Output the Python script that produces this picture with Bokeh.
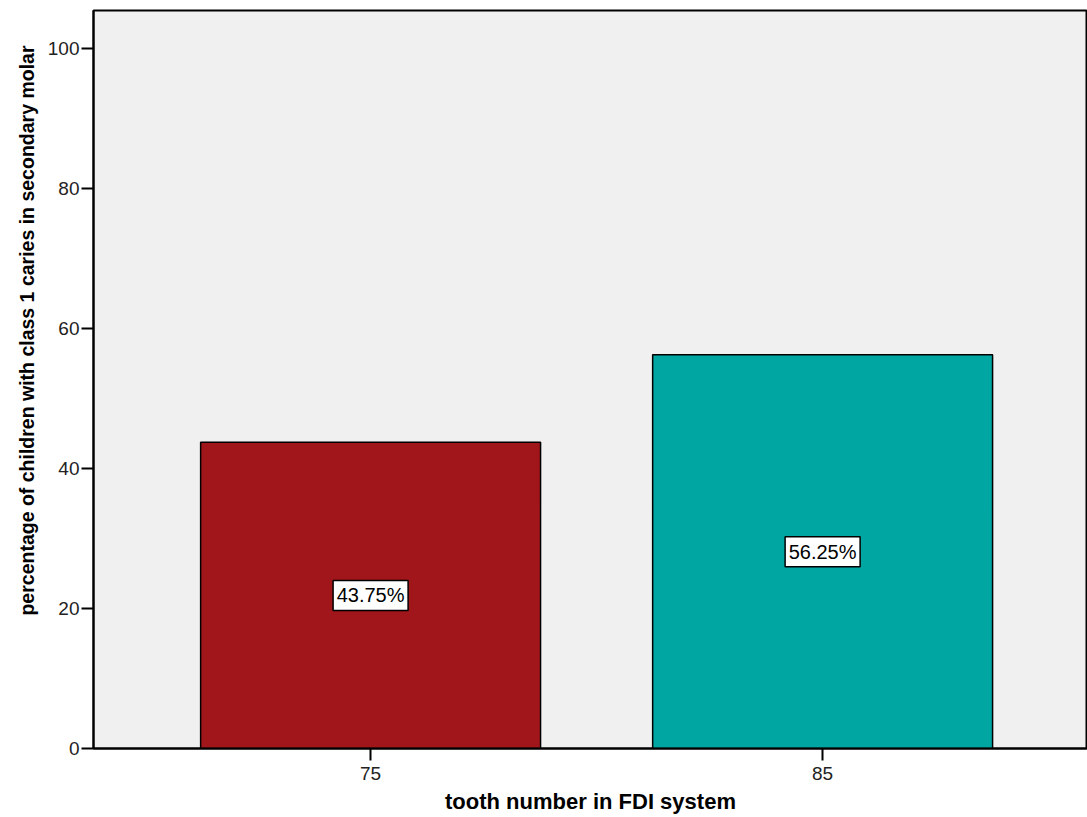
from bokeh.plotting import figure
from bokeh.models import ColumnDataSource, Title, FixedTicker, Range1d
from bokeh.core.properties import value
from bokeh.embed import file_html
from bokeh.resources import INLINE

categories = ["75", "85"]
values = [43.75, 56.25]
labels = ["43.75%", "56.25%"]
colors = ["#A0161A", "#00A6A2"]
y_ticks = [0, 20, 40, 60, 80, 100]
x_title = "tooth number in FDI system"
y_title = "percentage of children with class 1 caries in secondary molar"

xs = list(range(len(categories)))
src = ColumnDataSource(dict(
    x=xs, top=values, mid=[v / 2 for v in values], lab=labels, color=colors))

p = figure(width=1087, height=817, output_backend="svg", toolbar_location=None,
           x_range=Range1d(-0.613, 1.586), y_range=Range1d(0, 105.43),
           min_border_left=93, min_border_top=10, min_border_right=0, min_border_bottom=69)

p.background_fill_color = "#F0F0F0"
p.border_fill_color = "white"
p.outline_line_color = "black"
p.outline_line_width = 2
p.grid.visible = False

p.vbar(x="x", top="top", width=0.752, bottom=0, fill_color="color",
       line_color="black", line_width=1.5, source=src)

p.rect(x="x", y="mid", width=75, height=30, width_units="screen", height_units="screen",
       fill_color="white", line_color="black", line_width=1.5, source=src)
p.text(x="x", y="mid", text="lab", source=src, text_align="center",
       text_baseline="middle", text_font=value("Liberation Sans"), text_font_size="20px",
       text_color="black")

p.xaxis.ticker = FixedTicker(ticks=xs)
p.xaxis.major_label_overrides = {i: c for i, c in enumerate(categories)}
p.yaxis.ticker = FixedTicker(ticks=y_ticks)

for ax in (p.xaxis, p.yaxis):
    ax.axis_line_color = "black"
    ax.axis_line_width = 2
    ax.major_tick_line_color = "black"
    ax.major_tick_line_width = 2
    ax.major_tick_in = 0
    ax.minor_tick_line_color = None
    ax.major_label_text_font = "Liberation Sans"
    ax.major_label_text_font_size = "19px"
    ax.major_label_text_color = "#222222"
    ax.axis_label_text_font = "Liberation Sans"
    ax.axis_label_text_font_style = "bold"
    ax.axis_label_text_color = "black"

p.xaxis.major_tick_out = 12
p.yaxis.major_tick_out = 12
p.xaxis.major_label_standoff = 6
p.yaxis.major_label_standoff = 2
p.xaxis.axis_label = x_title
p.xaxis.axis_label_text_font_size = "22px"
p.xaxis.axis_label_standoff = 6

ytitle = Title(text=y_title, align="right", offset=35,
               text_font="Liberation Sans", text_font_style="bold",
               text_font_size="19.5px", text_color="black", standoff=14)
p.add_layout(ytitle, "left")

open("out.html", "w").write(file_html(p, INLINE))
